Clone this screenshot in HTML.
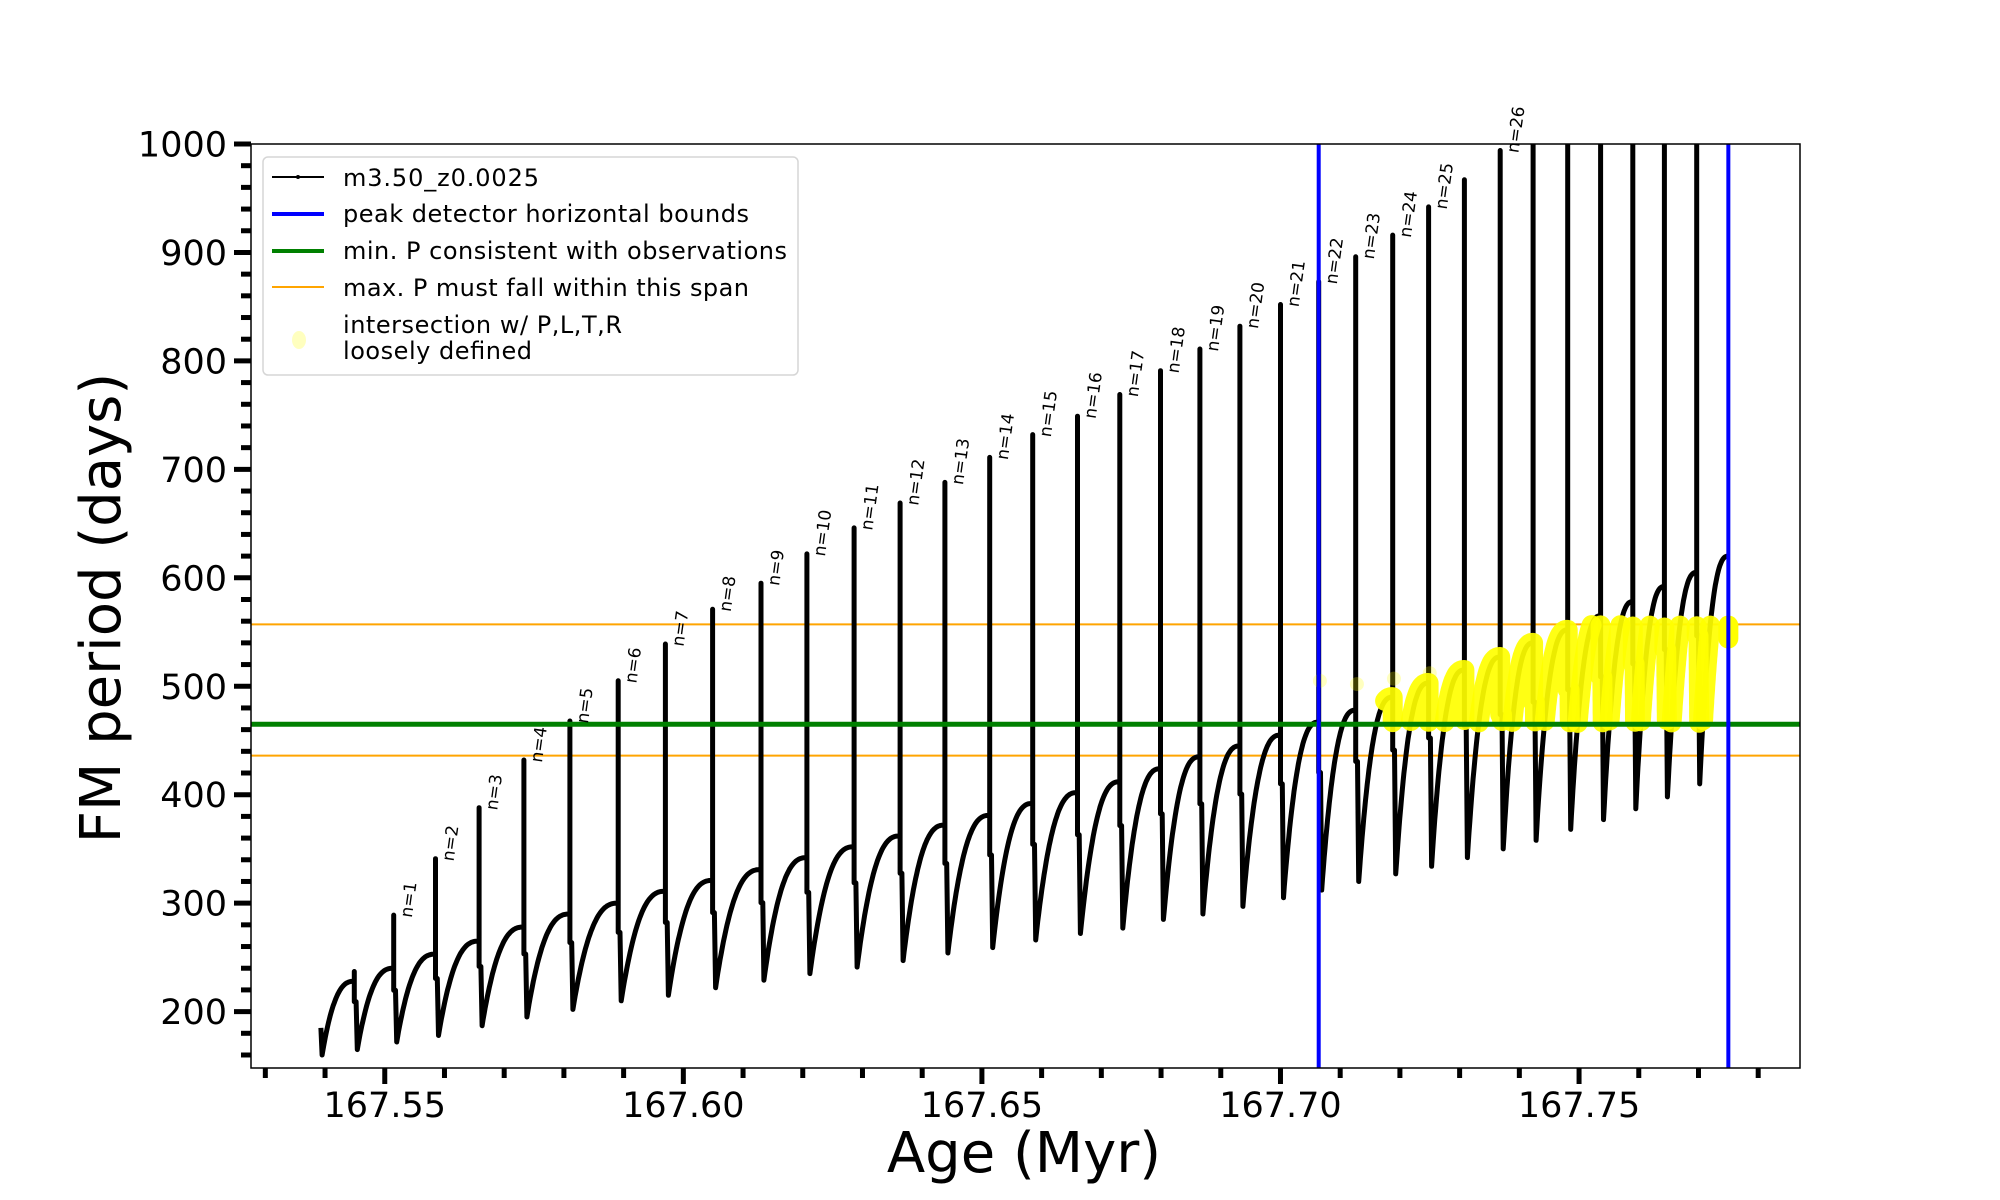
<!DOCTYPE html>
<html><head><meta charset="utf-8"><style>
html,body{margin:0;padding:0;background:#fff;}
svg{display:block;font-family:"DejaVu Sans","Liberation Sans",sans-serif;}
</style></head><body>
<svg id="chart" width="2000" height="1200" viewBox="0 0 2000 1200" xmlns="http://www.w3.org/2000/svg">
<defs>
<clipPath id="plotClip"><rect x="251" y="144" width="1549" height="924"/></clipPath>
</defs>
<rect x="0" y="0" width="2000" height="1200" fill="#fff"/>
<g id="plot"></g>
<g id="axes"></g>
<g id="legend">
  <rect x="263" y="157" width="535" height="218" rx="5" fill="#fff" fill-opacity="0.8" stroke="#d6d6d6" stroke-width="1.5"/>
  <line x1="272" y1="177" x2="324" y2="177" stroke="#000" stroke-width="2"/>
  <circle cx="298" cy="177" r="2" fill="#000"/>
  <text x="343" y="186" font-size="24" textLength="196">m3.50_z0.0025</text>
  <line x1="272" y1="214" x2="324" y2="214" stroke="#0000ff" stroke-width="4"/>
  <text x="343" y="222" font-size="24" textLength="406">peak detector horizontal bounds</text>
  <line x1="272" y1="251" x2="324" y2="251" stroke="#008000" stroke-width="4"/>
  <text x="343" y="259" font-size="24" textLength="444">min. P consistent with observations</text>
  <line x1="272" y1="287" x2="324" y2="287" stroke="#ffa500" stroke-width="2"/>
  <text x="343" y="296" font-size="24" textLength="406">max. P must fall within this span</text>
  <ellipse cx="299" cy="340" rx="7" ry="9" fill="#ffff00" fill-opacity="0.25"/>
  <text x="343" y="333" font-size="24" textLength="279">intersection w/ P,L,T,R</text>
  <text x="343" y="359" font-size="24" textLength="189">loosely defined</text>
</g>
</svg>
<script>
// ---- data ----
const pulseAges = [167.5449,167.5515,167.5585,167.5658,167.5733,167.5810,167.5891,167.5970,167.6049,167.6130,167.6207,167.6286,167.6363,167.6438,167.6513,167.6585,167.6660,167.6731,167.6799,167.6865,167.6932,167.7000,167.7064,167.7126,167.7188,167.7248,167.7308,167.7368,167.7423,167.7481,167.7536,167.7590,167.7643,167.7697];
const peakP = [237,289,341,388,432,468,505,539,571,595,622,646,669,688,711,732,749,769,791,811,832,852,873,896,916,942,967,994,1050,1050,1050,1050,1050,1050];
const plateauP = [228,240,253,265,278,290,300,311,321,331,342,352,362,372,381,392,402,412,424,435,445,455,467,478,490,503,515,527,540,552,565,578,592,605];
const minP = [165,172,178,187,195,202,210,215,222,229,235,241,247,254,259,266,272,277,285,290,297,305,312,320,327,334,342,350,358,368,377,387,398,410];
const pulseLabels = ["","n=1","n=2","n=3","n=4","n=5","n=6","n=7","n=8","n=9","n=10","n=11","n=12","n=13","n=14","n=15","n=16","n=17","n=18","n=19","n=20","n=21","n=22","n=23","n=24","n=25","","n=26","","","","","",""];
const startAge = 167.5393, startP = 185, firstMinP = 160;
const endAge = 167.7750, endP = 620;
const boundAges = [167.7064, 167.7750];
const minObsP = [465];
const maxSpanP = [436, 557];
const yellowStartAge = 167.7175;
const yellowBand = [466, 557];
const faintAges = [167.7066, 167.7128, 167.7190, 167.7250];
const faintP = [505, 502, 507, 512];
const xTicks = [167.53,167.54,167.55,167.56,167.57,167.58,167.59,167.60,167.61,167.62,167.63,167.64,167.65,167.66,167.67,167.68,167.69,167.70,167.71,167.72,167.73,167.74,167.75,167.76,167.77,167.78];
const xTickLabels = ["","","167.55","","","","","167.60","","","","","167.65","","","","","167.70","","","","","167.75","","",""];
const yTicks = [200,300,400,500,600,700,800,900,1000];
const yTickLabels = ["200","300","400","500","600","700","800","900","1000"];

// ---- scales ----
const X0 = 251, X1 = 1800, Y0 = 144, Y1 = 1068;
const xMin = 167.5276, xMax = 167.787, yMin = 148, yMax = 1000;
const xs = a => X0 + (a - xMin) / (xMax - xMin) * (X1 - X0);
const ys = v => Y1 - (v - yMin) / (yMax - yMin) * (Y1 - Y0);
const NS = "http://www.w3.org/2000/svg";
function mk(tag, attrs, parent){ const e = document.createElementNS(NS, tag); for (const k in attrs) e.setAttribute(k, attrs[k]); parent.appendChild(e); return e; }
const plot = document.getElementById('plot');
const axes = document.getElementById('axes');

// ---- build series (age,value) points ----
function segment(pts, a0, v0, a1, v1){
  const n = 40;
  for (let k = 1; k <= n; k++){
    const s = k / n;
    const f = 1 - Math.pow(1 - s, 2.6);
    pts.push([a0 + (a1 - a0) * s, v0 + (v1 - v0) * f]);
  }
}
function buildPoints(withPeaks){
  const pts = [[startAge, startP], [startAge + 0.0002, firstMinP]];
  let prevAge = startAge + 0.0002, prevV = firstMinP;
  for (let i = 0; i < pulseAges.length; i++){
    segment(pts, prevAge, prevV, pulseAges[i], plateauP[i]);
    const t = pulseAges[i];
    if (withPeaks) pts.push([t, peakP[i]]);
    const shelf = plateauP[i] - 0.3 * (plateauP[i] - minP[i]);
    pts.push([t, shelf]);
    pts.push([t + 0.0003, shelf]);
    pts.push([t + 0.0005, minP[i]]);
    prevAge = t + 0.0005; prevV = minP[i];
  }
  segment(pts, prevAge, prevV, endAge, endP);
  return pts;
}
const toPath = pts => 'M' + pts.map(p => xs(p[0]).toFixed(1) + ',' + ys(p[1]).toFixed(1)).join('L');
const seriesPts = buildPoints(true);
const d = toPath(seriesPts);

// yellow runs: densify, keep in-band points
const noPeakPts = buildPoints(false);
const runs = [];
let cur = [];
for (let i = 1; i < noPeakPts.length; i++){
  const [a0, v0] = noPeakPts[i - 1], [a1, v1] = noPeakPts[i];
  const steps = Math.max(1, Math.ceil(Math.abs(v1 - v0) / 3));
  for (let k = 0; k < steps; k++){
    const s = k / steps;
    const a = a0 + (a1 - a0) * s, v = v0 + (v1 - v0) * s;
    if (a >= yellowStartAge && v >= yellowBand[0] && v <= yellowBand[1]) cur.push([a, v]);
    else if (cur.length){ runs.push(cur); cur = []; }
  }
}
if (cur.length) runs.push(cur);

const gClip = mk('g', {'clip-path': 'url(#plotClip)'}, plot);



maxSpanP.forEach((v, i) => {
  const l = mk('line', {x1: X0, x2: X1, y1: ys(v), y2: ys(v), stroke: '#ffa500', 'stroke-width': 2}, gClip);
  
  
});

const series = mk('path', {d: d, fill: 'none', stroke: '#000', 'stroke-width': 5, 'stroke-linejoin': 'round'}, gClip);



const yg = mk('g', {}, gClip);


runs.forEach(r => {
  const pth = r.length > 1 ? toPath(r) : toPath([r[0], r[0]]);
  const p = mk('path', {d: pth, fill: 'none', stroke: '#ffff00', 'stroke-opacity': 0.92, 'stroke-width': 20, 'stroke-linejoin': 'round', 'stroke-linecap': 'round'}, yg);
  
  
});
const endBlob = mk('line', {x1: xs(endAge), x2: xs(endAge), y1: ys(556), y2: ys(544), stroke: '#ffff00', 'stroke-width': 20, 'stroke-linecap': 'round'}, gClip);


faintAges.forEach((a, i) => {
  const c = mk('circle', {cx: xs(a), cy: ys(faintP[i]), r: 7, fill: '#ffff00', 'fill-opacity': 0.25}, gClip);
  
  
});

const green = mk('line', {x1: X0, x2: X1, y1: ys(minObsP[0]), y2: ys(minObsP[0]), stroke: '#008000', 'stroke-width': 5}, gClip);



boundAges.forEach((a, i) => {
  const l = mk('line', {x1: xs(a), x2: xs(a), y1: Y0, y2: Y1, stroke: '#0000ff', 'stroke-width': 4}, gClip);
  
  
});

pulseLabels.forEach((lab, i) => {
  if (!lab) return;
  const px = xs(pulseAges[i]) + 18, py = ys(peakP[i]) + 3;
  const t = mk('text', {x: 0, y: 0, 'font-size': 17, transform: `translate(${px.toFixed(1)},${py.toFixed(1)}) rotate(-82)`}, plot);
  t.textContent = lab;
  
  
});

const frame = mk('rect', {x: X0, y: Y0, width: X1 - X0, height: Y1 - Y0, fill: 'none', stroke: '#000', 'stroke-width': 1.5}, axes);



xTicks.forEach((a, i) => {
  const major = xTickLabels[i] !== "";
  const x = xs(a);
  const tk = mk('line', {x1: x, x2: x, y1: Y1, y2: Y1 + (major ? 16 : 10), stroke: '#000', 'stroke-width': 5}, axes);
  
  
  if (major){
    const t = mk('text', {x: x, y: 1117, 'font-size': 35, 'text-anchor': 'middle'}, axes);
    t.textContent = xTickLabels[i];
    
    
  }
});
for (let v = 160; v <= 1000; v += 20){
  const major = v % 100 === 0;
  const tk = mk('line', {x1: X0 - (major ? 17 : 10), x2: X0, y1: ys(v), y2: ys(v), stroke: '#000', 'stroke-width': 5}, axes);
  
  
}
yTicks.forEach((v, i) => {
  const t = mk('text', {x: 227, y: ys(v) + 12.5, 'font-size': 35, 'text-anchor': 'end'}, axes);
  t.textContent = yTickLabels[i];
  
  
});
const xt = mk('text', {x: 1024, y: 1172, 'font-size': 56, 'text-anchor': 'middle'}, axes);
xt.textContent = 'Age (Myr)';


const yt = mk('text', {x: 0, y: 0, 'font-size': 56, 'text-anchor': 'middle', transform: 'translate(120,608) rotate(-90)'}, axes);
yt.textContent = 'FM period (days)';


</script>
</body></html>
